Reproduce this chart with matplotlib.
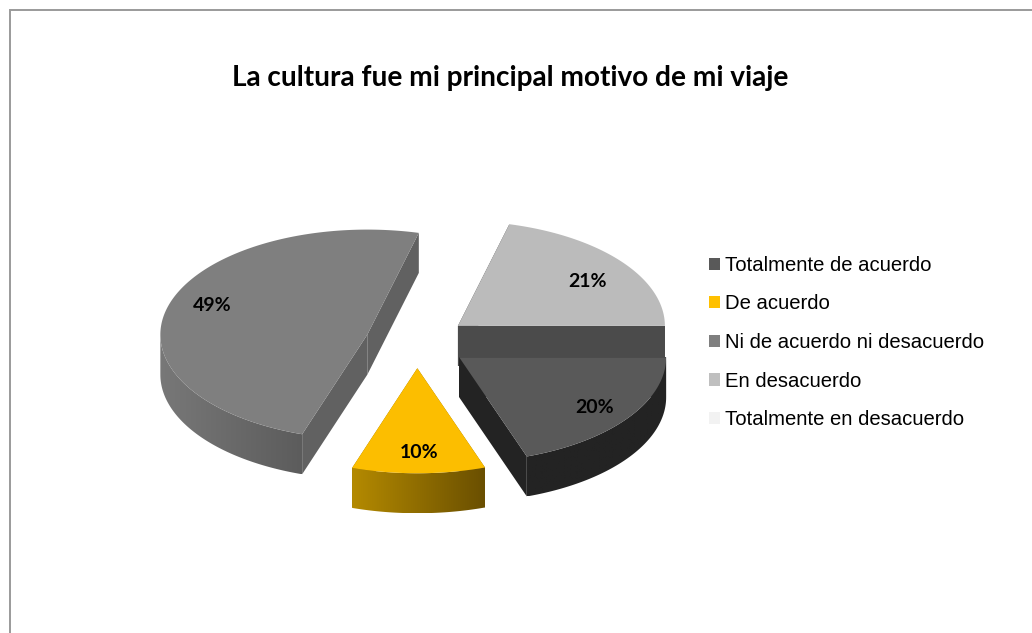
import numpy as np
import matplotlib
matplotlib.use("Agg")
import matplotlib.pyplot as plt
from matplotlib.patches import Polygon, Patch
from matplotlib.colors import LinearSegmentedColormap

TITLE = "La cultura fue mi principal motivo de mi viaje"
categories = ["Totalmente de acuerdo", "De acuerdo", "Ni de acuerdo ni desacuerdo",
              "En desacuerdo", "Totalmente en desacuerdo"]
values = [19.7, 10.4, 48.9, 21.0, 0]
top_colors = ["#595959", "#fcbe00", "#7f7f7f", "#bbbbbb", "#f2f2f2"]
legend_colors = ["#595959", "#ffc000", "#7f7f7f", "#bfbfbf", "#f2f2f2"]
side_colors = ["#232323", "#8a6800", "#616161", "#4b4b4b", "#f2f2f2"]
rim_left = ["#232323", "#b48a00", "#787878", "#4b4b4b", "#f2f2f2"]
rim_right = ["#232323", "#6a4f00", "#5c5c5c", "#4b4b4b", "#f2f2f2"]
label_shift = [(2, 2), (1, 1), (2, -6), (0, 6), (0, 0)]

W, H = 1032, 633
CX, CY, RX, RY = 417, 342, 207, 105
DEPTH, EXPLODE, LABEL_R = 40, 0.25, 0.79

fig = plt.figure(figsize=(W / 100, H / 100), dpi=100, facecolor="white")
ax = fig.add_axes([0, 0, 1, 1])
ax.set_axis_off()


def pt(r, deg, ox=CX, oy=CY):
    a = np.radians(deg)
    return np.column_stack([ox + RX * r * np.cos(a), oy + RY * r * np.sin(a)])


total = sum(values)
bounds = np.cumsum([0] + values) * 360.0 / total
for i in [3, 2, 1, 0]:
    a0, a1 = bounds[i], bounds[i + 1]
    mid = (a0 + a1) / 2
    apex = pt(EXPLODE, mid)[0]
    arc = pt(1, np.linspace(a0, a1, 160), *apex)
    down = np.array([0, DEPTH])
    # cut faces
    for end in (arc[0], arc[-1]):
        q = np.array([apex, end, end + down, apex + down])
        ax.add_patch(Polygon(q, closed=True, fc=side_colors[i], ec="none", zorder=2))
    # outer rim, visible only on the front half of the ellipse
    lo, hi = max(a0, 0), min(a1, 180)
    if hi > lo:
        r_arc = pt(1, np.linspace(lo, hi, 120), *apex)
        q = np.vstack([r_arc, (r_arc + down)[::-1]])
        cmap = LinearSegmentedColormap.from_list("r", [rim_left[i], rim_right[i]])
        x0, x1, y0, y1 = q[:, 0].min(), q[:, 0].max(), q[:, 1].min(), q[:, 1].max()
        im = ax.imshow(np.linspace(0, 1, 256)[None, :], cmap=cmap, extent=[x0, x1, y1, y0],
                       aspect="auto", zorder=2, interpolation="bilinear")
        im.set_clip_path(Polygon(q, closed=True, transform=ax.transData))
    # top face
    ax.add_patch(Polygon(np.vstack([apex, arc]), closed=True, fc=top_colors[i], ec="none", zorder=2))
    lab = pt(LABEL_R, mid, *apex)[0]
    ax.text(lab[0] + label_shift[i][0], lab[1] + label_shift[i][1], f"{values[i]:.0f}%",
            ha="center", va="center", fontsize=14, fontweight="bold", family="Lato",
            color="black", zorder=5)

ax.set_xlim(0, W)
ax.set_ylim(H, 0)

# chart frame, cut off by the image at the right and the bottom
ax.plot([9.5, 9.5, W], [H, 9.5, 9.5], color="#9a9a9a", lw=1.4, solid_joinstyle="miter", zorder=1)

ax.text(510, 78, TITLE, ha="center", va="center", fontsize=20.2, fontweight="bold",
        family="Lato", color="black")

handles = [Patch(fc=c, ec="none", label=l) for c, l in zip(legend_colors, categories)]
ax.legend(handles=handles, loc="center left", bbox_to_anchor=(709 / W, 1 - 342.5 / H),
          frameon=False, prop={"family": "Liberation Sans", "size": 14.6},
          handlelength=0.55, handleheight=0.55, handletextpad=0.25,
          labelspacing=0.965, borderpad=0, borderaxespad=0)

fig.savefig("out.png", dpi=100, facecolor="white")
